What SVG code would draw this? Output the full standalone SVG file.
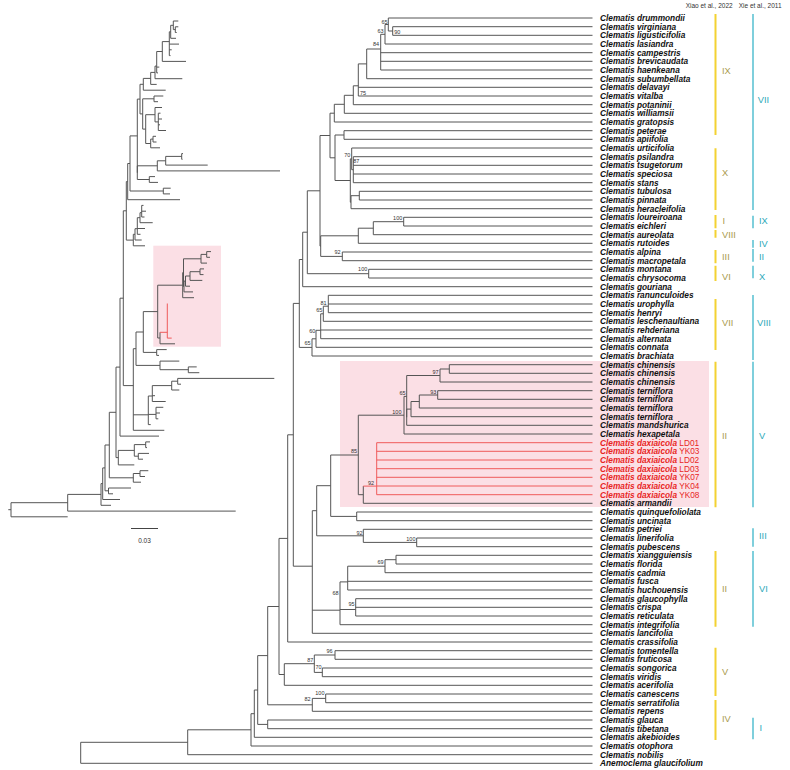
<svg xmlns="http://www.w3.org/2000/svg" width="790" height="770" viewBox="0 0 790 770">
<style>
.tl{fill:none;stroke:#555;stroke-width:1}
.rl{fill:none;stroke:#ef5a5a;stroke-width:1}
.t{font-family:"Liberation Sans",Arial,sans-serif;font-size:8.3px;font-weight:bold;font-style:italic;fill:#111}
.r{font-family:"Liberation Sans",Arial,sans-serif;font-size:8.3px;fill:#e8251f}
.r tspan{font-weight:bold;font-style:italic}
.h{font-family:"Liberation Sans",Arial,sans-serif;font-size:6.5px;fill:#333}
.b{font-family:"Liberation Sans",Arial,sans-serif;font-size:5.5px;fill:#333}
.be{font-family:"Liberation Sans",Arial,sans-serif;font-size:5.5px;fill:#333;text-anchor:end}
.gy{font-family:"Liberation Sans",Arial,sans-serif;font-size:9.3px;fill:#a99a4c}
.gc{font-family:"Liberation Sans",Arial,sans-serif;font-size:9.3px;fill:#2aa9b9}
.by{stroke:#f3d232;stroke-width:2}
.bc{stroke:#7fcfdc;stroke-width:2}
</style>
<rect x="0" y="0" width="790" height="770" fill="#fff"/>
<g id="highlights">
<rect x="153.3" y="245.7" width="67.7" height="101" fill="#fbdfe5"/>
<rect x="340" y="361" width="369" height="146" fill="#fbdfe5"/>
</g>
<g id="connectors">
<g id="tree-right" class="tl">
<path d="M592.5,26.7H392.7V35.3H592.5M592.5,18H388.3V31H392.7M388.3,24.5H385V44H592.5M385,34.3H380.7V70H592.5M380.7,52.7H592.5M380.7,61.3H592.5M380.7,49H366.7V78.7H592.5M366.7,63.9H358.3V96H592.5M358.3,87.3H592.5M358.3,85.8H353.3V104.7H592.5M353.3,95.3H344.3V113.3H592.5M344.3,104.3H334.3V122H592.5M592.5,130.7H344V139.3H592.5M592.5,156.7H353.3V182.7H592.5M353.3,165.3H592.5M353.3,174H592.5M592.5,148H351.7V169.7H353.3M592.5,191.3H359.3V200H592.5M359.3,195.7H351V208.7H592.5M351.7,158.9H350.3V202.2H351M344,135H335V180.5H350.3M334.3,113.2H330V157.8H335"/>
<path d="M592.5,217.3H403.7V226H592.5M403.7,221.7H373.3V234.7H592.5M373.3,228.2H358.3V243.3H592.5M592.5,252H342.3V260.7H592.5M358.3,235.8H320.7V256.4H342.3M330,135.5H320V246.1H320.7M592.5,269.3H368.7V278H592.5M320,190.8H307.3V273.7H368.7M307.3,232.2H302.7V286.7H592.5"/>
<path d="M592.5,295.3H328.3V312.7H592.5M328.3,304H592.5M328.3,306.2H323.3V321.3H592.5M323.3,313.8H320.7V338.7H592.5M320.7,330H592.5M320.7,330.3H316V347.3H592.5M316,338.8H312V356H592.5M302.7,259.5H299.3V347.4H312"/>
<path d="M592.5,364.7H449.3V373.3H592.5M449.3,369H440V382H592.5M592.5,390.7H437.7V399.3H592.5M437.7,395H419.3V408H592.5M419.3,401.5H411V416.7H592.5M411,409.1H406.7V425.3H592.5M440,375.5H406.7V417.2M406.7,396.4H404V434H592.5M363.3,486.1V503.3H592.5M404,415.2H358.3V494.7H363.3M592.5,512H356.7V520.7H592.5M358.3,455H330.7V516.4H356.7M592.5,538H416.7V546.7H592.5M592.5,529.3H363.3V542.4H416.7M330.7,485.7H316.7V535.8H363.3"/>
<path d="M592.5,555.3H396V564H592.5M396,559.7H385V572.7H592.5M385,566.2H347.7V590H592.5M347.7,581.3H592.5M592.5,598.7H355.7V616H592.5M355.7,607.3H592.5M347.7,581.9H340V624.7H592.5M340,609.5H355.7M316.7,510.7H312.3V633.3H592.5M312.3,610.2H340M299.3,303.4H293.3V566.2H312.3M293.3,434.8H287.7V642H592.5"/>
<path d="M592.5,650.7H335V659.3H592.5M592.5,668H322.3V676.7H592.5M335,655H314.3V672.4H322.3M314.3,663.7H284.3V685.3H592.5M287.7,538.4H279V674.5H284.3M592.5,694H325.7V702.7H592.5M325.7,698.4H312.3V711.3H592.5M279,606.5H267.7V704.8H312.3M592.5,720H267.7V728.7H592.5M267.7,655.6H257.7V724.4H267.7M257.7,690H254.3V737.3H592.5M254.3,713.7H251V746H592.5M251,729.8H187.7V754.7H592.5M187.7,742.3H80.7V763.3H592.5"/>
</g>
<path class="rl" d="M363.3,486.1H376.7M376.7,442.7V494.7M376.7,442.7H592.5M376.7,451.3H592.5M376.7,460H592.5M376.7,468.7H592.5M376.7,477.3H592.5M376.7,486H592.5M376.7,494.7H592.5"/>
<g id="tree-left" class="tl">
<path d="M178.3,26.8H175.3V32.5H176.7M178.3,21H173.3V29.6H175.3M173.3,25.3H170.7V38.3H176M170.7,31.8H169.3V55.6H170.5M169.3,44.1H179M169.3,49.8H171.7M169.3,41.6H162.3V61.4H186M162.3,51.5H156.7V72.9H158M156.7,67.1H159.3M156.7,66.1H155V78.7H182.3M155,72.4H150.7V84.4H156.7M150.7,78.4H143.3V90.2H165.7M163.3,96H154V101.7H158M160.5,113.2H158.3V130.5H166M158.3,119H162M158.3,124.8H160M162,107.5H155V121.9H158.3M156,136.3H153V142H156.5M153,139.1H150.7V147.8H160M155,114.7H145.7V143.5H150.7M154,98.8H142.7V129.1H145.7M143.3,84.3H140V113.9H142.7"/>
<path d="M183,153.6H181.7V159.3H182.5M181.7,156.4H165.7V165.1H207.7M165.7,160.8H157.3V170.9H280M155,176.6H149.3V182.4H158M157.3,165.8H137.3V179.5H149.3M140,99.1H137.3V172.7M170.7,188.2H163.3V193.9H170M137.3,135.9H130V191H163.3M130,163.5H127.7V199.7H180"/>
<path d="M143.5,205.4H141.7V217H144.5M141.7,211.2H146M141.7,212.7H140V222.7H152.7M140,217.7H137.3V234.3H140.5M137.3,228.5H145M137.3,228.7H135V240H141.7M135,234.3H133.3V245.8H145M127.7,181.6H126.3V240.1H133.3"/>
<path d="M211,251.6H206.7V257.3H210M206.7,254.4H201V263.1H207M204,268.9H200V274.6H203.5M200,271.7H190V280.4H202.3M190,276H185.5V286.2H190M185.5,281.1H184V291.9H193M201,258.8H183.5V286.5H184M183.5,272.6H182.7V297.7H194M160,332.3V343.8H175M182.7,285.2H157.7V338H160M166.7,349.6H156.7V355.4H159M157.7,311.6H143.3V352.4H156.7M196.7,366.9H188.3V372.7H199.3M179.3,361.1H160V369.7H188.3M143.3,332H136V365.4H160"/>
<path d="M274.3,378.4H177.7V384.2H181M177.7,381.2H171.7V390H179.3M171.7,385.6H152.3V401.5H165.7M152.3,395.7H155M163.3,407.3H156V418.8H158.3M156,413H160M152.3,396H148.3V424.6H150.7M148.3,414.4H156M136,348.7H133.3V430.3H164.3M133.3,414.8H148.3M126.3,210.8H123.3V385.6H133.3M123.3,298.2H120V436.1H159"/>
<path d="M150,441.9H145.7V447.6H147M149,453.4H138.3V459.2H143M145.7,444.6H134.3V456.2H138.3M134.3,450.4H118.3V464.9H134.3M120,367.1H116V457.6H118.3M148.3,470.7H140V476.5H145M140,473.5H133.3V482.2H141M116,412.3H109.3V477.8H133.3M131,488H108.5V493.8H113M109.3,445H105V490.8H108.5M105,467.9H102.7V499.5H120M102.7,483.6H101V505.3H111M101,494.4H67.7V511.1H235.7M67.7,502.7H11V516.8H67.7M8.3,509.7H11"/>
</g>
<path class="rl" d="M167.3,303.5V338.1H171.7M160,332.3H167.3"/>
</g>
<g id="scale">
<path d="M131,528.5H158" stroke="#444" stroke-width="1"/>
<text class="h" x="144.5" y="543" text-anchor="middle">0.03</text>
</g>
<g id="support">
<text class="be" x="387.5" y="23.5">65</text>
<text class="b" x="394.3" y="33.5">90</text>
<text class="be" x="383.5" y="33">63</text>
<text class="be" x="379" y="46.3">84</text>
<text class="b" x="360" y="94.7">75</text>
<text class="be" x="350.3" y="157">70</text>
<text class="b" x="353.3" y="163">87</text>
<text class="be" x="402.3" y="220.3">100</text>
<text class="be" x="340.5" y="254.3">92</text>
<text class="be" x="367.3" y="271">100</text>
<text class="be" x="326.5" y="304.7">81</text>
<text class="be" x="322.3" y="312.3">65</text>
<text class="be" x="315.3" y="333">60</text>
<text class="be" x="310.5" y="344.7">65</text>
<text class="be" x="438.5" y="373.7">97</text>
<text class="be" x="436.3" y="393.7">93</text>
<text class="be" x="405.5" y="394.7">65</text>
<text class="be" x="401.5" y="413.7">100</text>
<text class="be" x="357" y="452.7">85</text>
<text class="b" x="368" y="484.7">92</text>
<text class="be" x="362.5" y="534.7">92</text>
<text class="be" x="415.5" y="541">100</text>
<text class="be" x="383.5" y="563.7">69</text>
<text class="be" x="338.5" y="595.3">68</text>
<text class="be" x="354.5" y="606.3">95</text>
<text class="be" x="332.5" y="653">96</text>
<text class="be" x="313.3" y="662">87</text>
<text class="be" x="321.5" y="669.3">70</text>
<text class="be" x="324.5" y="695.3">100</text>
<text class="be" x="310.5" y="701.3">82</text>
</g>
<g id="t1"><text class="t" x="600" y="20.9">Clematis drummondii</text></g>
<g id="t2"><text class="t" x="600" y="29.6">Clematis virginiana</text></g>
<g id="t3"><text class="t" x="600" y="38.2">Clematis ligusticifolia</text></g>
<g id="t4"><text class="t" x="600" y="46.9">Clematis lasiandra</text></g>
<g id="t5"><text class="t" x="600" y="55.6">Clematis campestris</text></g>
<g id="t6"><text class="t" x="600" y="64.2">Clematis brevicaudata</text></g>
<g id="t7"><text class="t" x="600" y="72.9">Clematis haenkeana</text></g>
<g id="t8"><text class="t" x="600" y="81.6">Clematis subumbellata</text></g>
<g id="t9"><text class="t" x="600" y="90.2">Clematis delavayi</text></g>
<g id="t10"><text class="t" x="600" y="98.9">Clematis vitalba</text></g>
<g id="t11"><text class="t" x="600" y="107.6">Clematis potaninii</text></g>
<g id="t12"><text class="t" x="600" y="116.2">Clematis williamsii</text></g>
<g id="t13"><text class="t" x="600" y="124.9">Clematis gratopsis</text></g>
<g id="t14"><text class="t" x="600" y="133.6">Clematis peterae</text></g>
<g id="t15"><text class="t" x="600" y="142.2">Clematis apiifolia</text></g>
<g id="t16"><text class="t" x="600" y="150.9">Clematis urticifolia</text></g>
<g id="t17"><text class="t" x="600" y="159.6">Clematis psilandra</text></g>
<g id="t18"><text class="t" x="600" y="168.2">Clematis tsugetorum</text></g>
<g id="t19"><text class="t" x="600" y="176.9">Clematis speciosa</text></g>
<g id="t20"><text class="t" x="600" y="185.6">Clematis stans</text></g>
<g id="t21"><text class="t" x="600" y="194.2">Clematis tubulosa</text></g>
<g id="t22"><text class="t" x="600" y="202.9">Clematis pinnata</text></g>
<g id="t23"><text class="t" x="600" y="211.6">Clematis heracleifolia</text></g>
<g id="t24"><text class="t" x="600" y="220.2">Clematis loureiroana</text></g>
<g id="t25"><text class="t" x="600" y="228.9">Clematis eichleri</text></g>
<g id="t26"><text class="t" x="600" y="237.6">Clematis aureolata</text></g>
<g id="t27"><text class="t" x="600" y="246.2">Clematis rutoides</text></g>
<g id="t28"><text class="t" x="600" y="254.9">Clematis alpina</text></g>
<g id="t29"><text class="t" x="600" y="263.6">Clematis macropetala</text></g>
<g id="t30"><text class="t" x="600" y="272.2">Clematis montana</text></g>
<g id="t31"><text class="t" x="600" y="280.9">Clematis chrysocoma</text></g>
<g id="t32"><text class="t" x="600" y="289.6">Clematis gouriana</text></g>
<g id="t33"><text class="t" x="600" y="298.2">Clematis ranunculoides</text></g>
<g id="t34"><text class="t" x="600" y="306.9">Clematis urophylla</text></g>
<g id="t35"><text class="t" x="600" y="315.6">Clematis henryi</text></g>
<g id="t36"><text class="t" x="600" y="324.2">Clematis leschenaultiana</text></g>
<g id="t37"><text class="t" x="600" y="332.9">Clematis rehderiana</text></g>
<g id="t38"><text class="t" x="600" y="341.6">Clematis alternata</text></g>
<g id="t39"><text class="t" x="600" y="350.2">Clematis connata</text></g>
<g id="t40"><text class="t" x="600" y="358.9">Clematis brachiata</text></g>
<g id="t41"><text class="t" x="600" y="367.6">Clematis chinensis</text></g>
<g id="t42"><text class="t" x="600" y="376.2">Clematis chinensis</text></g>
<g id="t43"><text class="t" x="600" y="384.9">Clematis chinensis</text></g>
<g id="t44"><text class="t" x="600" y="393.6">Clematis terniflora</text></g>
<g id="t45"><text class="t" x="600" y="402.2">Clematis terniflora</text></g>
<g id="t46"><text class="t" x="600" y="410.9">Clematis terniflora</text></g>
<g id="t47"><text class="t" x="600" y="419.6">Clematis terniflora</text></g>
<g id="t48"><text class="t" x="600" y="428.2">Clematis mandshurica</text></g>
<g id="t49"><text class="t" x="600" y="436.9">Clematis hexapetala</text></g>
<g id="t50"><text class="r" x="600" y="445.6"><tspan>Clematis daxiaicola</tspan> LD01</text></g>
<g id="t51"><text class="r" x="600" y="454.2"><tspan>Clematis daxiaicola</tspan> YK03</text></g>
<g id="t52"><text class="r" x="600" y="462.9"><tspan>Clematis daxiaicola</tspan> LD02</text></g>
<g id="t53"><text class="r" x="600" y="471.6"><tspan>Clematis daxiaicola</tspan> LD03</text></g>
<g id="t54"><text class="r" x="600" y="480.2"><tspan>Clematis daxiaicola</tspan> YK07</text></g>
<g id="t55"><text class="r" x="600" y="488.9"><tspan>Clematis daxiaicola</tspan> YK04</text></g>
<g id="t56"><text class="r" x="600" y="497.6"><tspan>Clematis daxiaicola</tspan> YK08</text></g>
<g id="t57"><text class="t" x="600" y="506.2">Clematis armandii</text></g>
<g id="t58"><text class="t" x="600" y="514.9">Clematis quinquefoliolata</text></g>
<g id="t59"><text class="t" x="600" y="523.6">Clematis uncinata</text></g>
<g id="t60"><text class="t" x="600" y="532.2">Clematis petriei</text></g>
<g id="t61"><text class="t" x="600" y="540.9">Clematis linerifolia</text></g>
<g id="t62"><text class="t" x="600" y="549.6">Clematis pubescens</text></g>
<g id="t63"><text class="t" x="600" y="558.2">Clematis xiangguiensis</text></g>
<g id="t64"><text class="t" x="600" y="566.9">Clematis florida</text></g>
<g id="t65"><text class="t" x="600" y="575.6">Clematis cadmia</text></g>
<g id="t66"><text class="t" x="600" y="584.2">Clematis fusca</text></g>
<g id="t67"><text class="t" x="600" y="592.9">Clematis huchouensis</text></g>
<g id="t68"><text class="t" x="600" y="601.6">Clematis glaucophylla</text></g>
<g id="t69"><text class="t" x="600" y="610.2">Clematis crispa</text></g>
<g id="t70"><text class="t" x="600" y="618.9">Clematis reticulata</text></g>
<g id="t71"><text class="t" x="600" y="627.6">Clematis integrifolia</text></g>
<g id="t72"><text class="t" x="600" y="636.2">Clematis lancifolia</text></g>
<g id="t73"><text class="t" x="600" y="644.9">Clematis crassifolia</text></g>
<g id="t74"><text class="t" x="600" y="653.6">Clematis tomentella</text></g>
<g id="t75"><text class="t" x="600" y="662.2">Clematis fruticosa</text></g>
<g id="t76"><text class="t" x="600" y="670.9">Clematis songorica</text></g>
<g id="t77"><text class="t" x="600" y="679.6">Clematis viridis</text></g>
<g id="t78"><text class="t" x="600" y="688.2">Clematis acerifolia</text></g>
<g id="t79"><text class="t" x="600" y="696.9">Clematis canescens</text></g>
<g id="t80"><text class="t" x="600" y="705.6">Clematis serratifolia</text></g>
<g id="t81"><text class="t" x="600" y="714.2">Clematis repens</text></g>
<g id="t82"><text class="t" x="600" y="722.9">Clematis glauca</text></g>
<g id="t83"><text class="t" x="600" y="731.6">Clematis tibetana</text></g>
<g id="t84"><text class="t" x="600" y="740.2">Clematis akebioides</text></g>
<g id="t85"><text class="t" x="600" y="748.9">Clematis otophora</text></g>
<g id="t86"><text class="t" x="600" y="757.6">Clematis nobilis</text></g>
<g id="t87"><text class="t" x="600" y="766.2">Anemoclema glaucifolium</text></g>
<g id="headers">
<text class="h" x="685.7" y="7.6">Xiao et al., 2022</text>
<text class="h" x="738.7" y="7.6">Xie et al., 2011</text>
</g>
<g id="xiao-groups">
<path class="by" d="M715.5,14V135M715.5,148.3V210M715.5,215V228.3M715.5,230V237.7M715.5,250V263.3M715.5,265.7V281M715.5,299V350M715.5,361.7V507.3M715.5,551V626.7M715.5,647.7V696M715.5,700V740"/>
<text class="gy" x="722" y="73.5">IX</text>
<text class="gy" x="722" y="176">X</text>
<text class="gy" x="722.5" y="223.5">I</text>
<text class="gy" x="722" y="237.5">VIII</text>
<text class="gy" x="722" y="259.5">III</text>
<text class="gy" x="722" y="280">VI</text>
<text class="gy" x="722" y="326">VII</text>
<text class="gy" x="722" y="438.5">II</text>
<text class="gy" x="722" y="591.5">II</text>
<text class="gy" x="722" y="674.5">V</text>
<text class="gy" x="722" y="721.8">IV</text>
</g>
<g id="xie-groups">
<path class="bc" d="M753,14V210M753,215.7V228.3M753,240V247.7M753,249V261.7M753,265.7V278.3M753,295V360M753,361.7V507.3M753,528.3V546.7M753,551V626.7M753,717.7V739.3"/>
<text class="gc" x="757.7" y="102.8">VII</text>
<text class="gc" x="759" y="223.5">IX</text>
<text class="gc" x="759" y="246.8">IV</text>
<text class="gc" x="759" y="259.5">II</text>
<text class="gc" x="759" y="279.5">X</text>
<text class="gc" x="757" y="326.2">VIII</text>
<text class="gc" x="759" y="438.5">V</text>
<text class="gc" x="759" y="539.2">III</text>
<text class="gc" x="759" y="591.5">VI</text>
<text class="gc" x="759.5" y="731.2">I</text>
</g>
</svg>
